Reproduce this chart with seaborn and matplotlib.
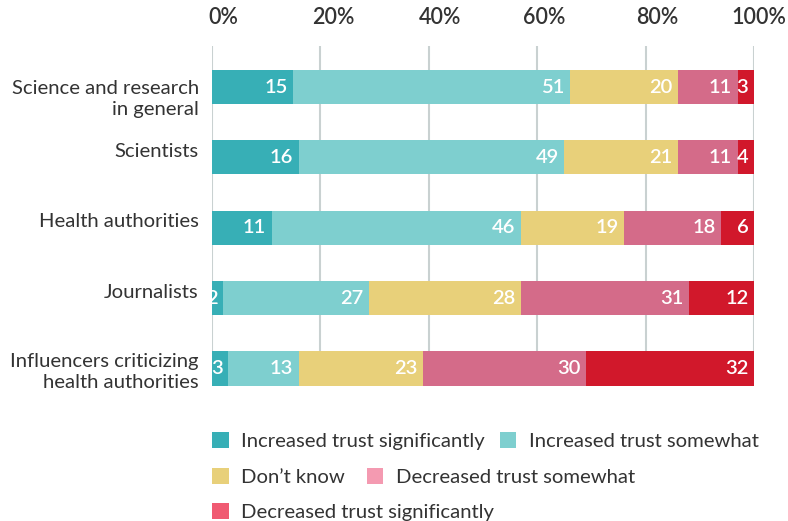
import numpy as np
import pandas as pd
import matplotlib
matplotlib.use("Agg")
import matplotlib.pyplot as plt
from matplotlib.patches import Patch
from matplotlib.transforms import ScaledTranslation
import seaborn as sns

# ---- data -------------------------------------------------------------
categories = [
    "Science and research\nin general",
    "Scientists",
    "Health authorities",
    "Journalists",
    "Influencers criticizing\nhealth authorities",
]
series_names = [
    "Increased trust significantly",
    "Increased trust somewhat",
    "Don\u2019t know",
    "Decreased trust somewhat",
    "Decreased trust significantly",
]
increased_significantly = [15, 16, 11, 2, 3]
increased_somewhat = [51, 49, 46, 27, 13]
dont_know = [20, 21, 19, 28, 23]
decreased_somewhat = [11, 11, 18, 31, 30]
decreased_significantly = [3, 4, 6, 12, 32]
tick_values = [0, 20, 40, 60, 80, 100]
tick_labels = ["0%", "20%", "40%", "60%", "80%", "100%"]

# ---- styling ----------------------------------------------------------
bar_colors = ["#37AFB6", "#7ECFCF", "#E8D07A", "#D46B89", "#D1182B"]
legend_colors = ["#37AFB6", "#7ECFCF", "#E8D07A", "#F49AB1", "#F05A72"]
text_color = "#333333"
grid_color = "#C9D1D1"

sns.set_theme(style="white")
plt.rcParams["font.family"] = ["Lato", "DejaVu Sans"]
plt.rcParams["text.color"] = text_color

series = [increased_significantly, increased_somewhat, dont_know,
          decreased_somewhat, decreased_significantly]
df = pd.DataFrame({"category": categories})
for name, vals in zip(series_names, series):
    df[name] = vals
cum = df[series_names].cumsum(axis=1)

fig = plt.figure(figsize=(7.88, 5.21), dpi=100)
ax = fig.add_axes([212 / 788, 1 - 386 / 521, (754 - 212) / 788, (386 - 46) / 521])

# stacked bars: draw the longest cumulative bar first, shorter ones on top
for name, color in reversed(list(zip(series_names, bar_colors))):
    sns.barplot(x=cum[name], y=df["category"], color=color, orient="h",
                width=0.484, saturation=1, linewidth=0, ax=ax, zorder=3)

# value labels at the right end of each segment
for name in series_names:
    for i, (end, val) in enumerate(zip(cum[name], df[name])):
        ax.annotate(str(val), xy=(min(end, 100), i), xytext=(-4, 0),
                    textcoords="offset points", ha="right", va="center",
                    color="white", fontsize=14.5, fontweight="semibold",
                    zorder=5)

ax.set_xlim(0, 100)
ax.set_ylim(4.249, -0.583)
ax.xaxis.tick_top()
ax.set_xticks(tick_values)
ax.set_xticklabels(tick_labels, fontsize=15.5, fontweight="semibold",
                   color=text_color)
ax.tick_params(axis="x", length=0, pad=13)
tick_shift_px = [11, 13, 11, 7, 12, 5]
for lab, dx in zip(ax.get_xticklabels(), tick_shift_px):
    lab.set_transform(lab.get_transform()
                      + ScaledTranslation(dx / 100, 0, fig.dpi_scale_trans))
ax.set_xlabel("")
ax.set_ylabel("")
ax.tick_params(axis="y", length=0, pad=9.5)
label_shift_px = [8, -7, -8, -7, 0]
for lab, dy in zip(ax.get_yticklabels(), label_shift_px):
    lab.set_fontsize(14.6)
    lab.set_color(text_color)
    lab.set_linespacing(1.32)
    lab.set_transform(lab.get_transform()
                      + ScaledTranslation(0, -dy / 100, fig.dpi_scale_trans))

ax.grid(axis="x", color=grid_color, linewidth=1.5, zorder=0)
ax.grid(axis="y", visible=False)
ax.set_axisbelow(True)
for s in ax.spines.values():
    s.set_visible(False)

# legend laid out in three rows
handles = [Patch(facecolor=c, edgecolor="none") for c in legend_colors]
rows = [([0, 1], 0.1536, 0.75), ([2, 3], 0.0845, 1.1), ([4], 0.0173, 1.0)]
for idx, yc, colsp in rows:
    fig.legend([handles[k] for k in idx], [series_names[k] for k in idx],
               loc="center left", bbox_to_anchor=(212 / 788, yc),
               ncol=len(idx), frameon=False, fontsize=14.6,
               handlelength=0.82, handleheight=0.82, handletextpad=0.6,
               columnspacing=colsp, borderpad=0, borderaxespad=0,
               labelcolor=text_color)

fig.savefig("out.png", dpi=100)
